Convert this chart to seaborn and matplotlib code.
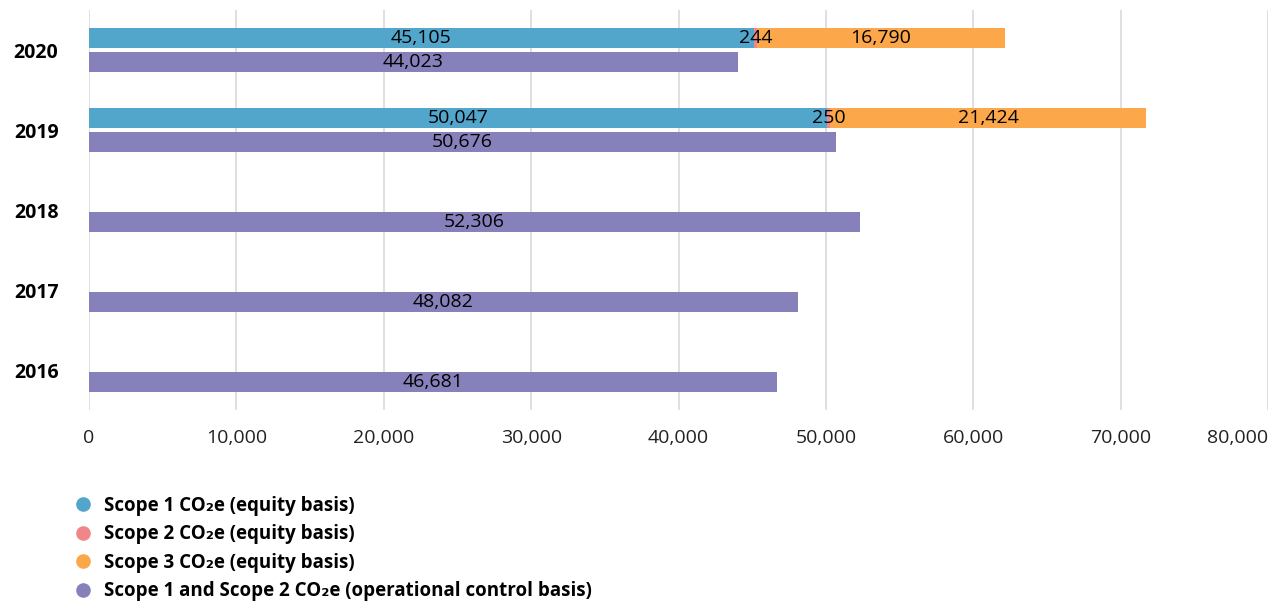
import pandas as pd
import seaborn as sns
import matplotlib
matplotlib.use("Agg")
from matplotlib import pyplot as plt
from matplotlib.lines import Line2D
from matplotlib.ticker import FuncFormatter

# data (tonnes CO2e)
years = ["2020", "2019", "2018", "2017", "2016"]
scope1_equity = [45105, 50047, None, None, None]
scope2_equity = [244, 250, None, None, None]
scope3_equity = [16790, 21424, None, None, None]
operational = [44023, 50676, 52306, 48082, 46681]

labels = ["Scope 1 CO\u2082e (equity basis)",
          "Scope 2 CO\u2082e (equity basis)",
          "Scope 3 CO\u2082e (equity basis)",
          "Scope 1 and Scope 2 CO\u2082e (operational control basis)"]
c_s1 = "#52a5cb"
c_s2 = "#f0868a"
c_s3 = "#fba74a"
c_op = "#8781bb"

sns.set_style("white")
plt.rcParams['font.family'] = ['Open Sans', 'DejaVu Sans']

eq = pd.DataFrame({"year": years, "s1": scope1_equity, "s2": scope2_equity,
                   "s3": scope3_equity}).dropna()
eq["group"] = "equity"
eq["s12"] = eq["s1"] + eq["s2"]
eq["total"] = eq["s12"] + eq["s3"]
op = pd.DataFrame({"year": years, "val": operational, "group": "operational"})

fig, ax = plt.subplots(figsize=(12.71, 6.02), dpi=100)
fig.subplots_adjust(left=89/1271, right=1268/1271, top=1-10/602, bottom=1-410/602)

hue_order = ["equity", "operational"]
kw = dict(x="val", y="year", order=years, hue="group", hue_order=hue_order, orient="h",
          width=0.6, gap=0.1667, legend=False, ax=ax, saturation=1, errorbar=None,
          linewidth=0)

# stacked by layering cumulative sums (operational rows kept so dodge stays put)
for col, c in [("total", c_s3), ("s12", c_s2), ("s1", c_s1)]:
    layer = pd.concat([eq[["year", "group", col]].rename(columns={col: "val"}), op])
    sns.barplot(data=layer, palette={"equity": c, "operational": c_op}, **kw)

# value labels centred on each segment
txt = dict(ha="center", va="center", fontsize=14, color="black")
for i, y in enumerate(years):
    ax.text(operational[i] / 2, i + 0.15, f"{operational[i]:,}", **txt)
for _, r in eq.iterrows():
    i = years.index(r["year"])
    ax.text(r["s1"] / 2, i - 0.15, f"{int(r['s1']):,}", **txt)
    ax.text(r["s1"] + r["s2"] / 2, i - 0.15, f"{int(r['s2']):,}", **txt)
    ax.text(r["s12"] + r["s3"] / 2, i - 0.15, f"{int(r['s3']):,}", **txt)

ax.set_xlim(0, 80000)
ax.set_ylim(4.5, -0.5)
ax.set_xticks(range(0, 80001, 10000))
ax.xaxis.set_major_formatter(FuncFormatter(lambda v, p: f"{int(v):,}"))
ax.grid(axis="x", color="#d9d9d9", linewidth=1.2)
ax.set_axisbelow(True)
sns.despine(ax=ax, left=True, bottom=True)
ax.set_xlabel("")
ax.set_ylabel("")
ax.tick_params(axis="x", length=0, pad=14, labelsize=14, labelcolor="#222222")
ax.tick_params(axis="y", length=0, pad=22, labelcolor="black")
for t in ax.get_yticklabels():
    t.set_fontweight("bold")
    t.set_fontsize(14)
ax.get_xticklabels()[-1].set_ha("right")

handles = [Line2D([], [], marker="o", linestyle="", markersize=9.5, color=c)
           for c in [c_s1, c_s2, c_s3, c_op]]
leg = fig.legend(handles, labels, loc="upper left", bbox_to_anchor=(74/1271, 1-496/602),
                 frameon=False, handletextpad=0.6, handlelength=1.0, labelspacing=0.45,
                 borderpad=0, borderaxespad=0,
                 prop={"weight": "bold", "size": 13.5})
for t in leg.get_texts():
    t.set_color("black")

plt.savefig("out.png", dpi=100)
